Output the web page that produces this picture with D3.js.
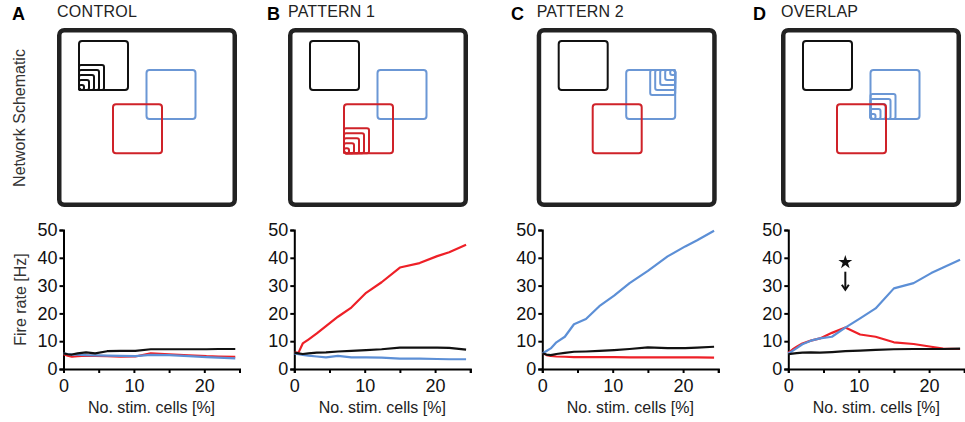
<!DOCTYPE html>
<html>
<head>
<meta charset="utf-8">
<script src="https://cdn.jsdelivr.net/npm/d3@7"></script>
<style>
  html, body { margin: 0; padding: 0; background: #fff; }
  svg { display: block; font-family: "Liberation Sans", Arial, Helvetica, sans-serif; }
</style>
</head>
<body>
<svg id="fig" width="965" height="422"></svg>
<script>
// Panels
const panelLetters = ["A", "B", "C", "D"];
const panelTitles = ["CONTROL", "PATTERN 1", "PATTERN 2", "OVERLAP"];
// Which sub-network receives the stimulation pattern, and in which corner
const stimGroup = ["black", "red", "blue", "blue"];
const stimCorner = ["bottom-left", "bottom-left", "top-right", "bottom-left"];

// Percentage of stimulated cells (x values shared by all curves)
const stimCells = [0, 0.6, 1.2, 2, 3.2, 4.5, 6.2, 8.1, 10.2, 12.4, 15, 17.8, 20.3, 22, 24.4];

// Firing rates [Hz] per panel: black, red and blue populations
const controlBlack = [5.6, 5.3, 5.2, 5.6, 6.0, 5.6, 6.4, 6.5, 6.5, 7.1, 7.1, 7.1, 7.1, 7.2, 7.2];
const controlRed   = [5.3, 4.8, 4.4, 4.6, 4.8, 4.7, 4.6, 4.4, 4.5, 5.6, 5.3, 4.9, 4.6, 4.5, 4.4];
const controlBlue  = [5.6, 5.4, 5.2, 5.2, 5.0, 4.9, 4.8, 4.7, 4.6, 5.1, 5.0, 4.6, 4.3, 4.1, 3.8];

const pattern1Black = [5.9, 5.6, 5.4, 5.6, 5.9, 6.0, 6.3, 6.5, 6.8, 7.1, 7.7, 7.7, 7.7, 7.6, 7.0];
const pattern1Red   = [5.9, 5.9, 9.2, 10.6, 12.8, 15.4, 18.8, 22.1, 27.4, 31.2, 36.5, 38.1, 40.6, 42.0, 44.7];
const pattern1Blue  = [5.6, 5.3, 5.1, 4.8, 4.5, 4.2, 4.7, 4.2, 4.2, 4.1, 3.7, 3.7, 3.6, 3.5, 3.5];

const pattern2Black = [5.6, 5.2, 5.0, 5.4, 5.8, 6.2, 6.3, 6.5, 6.8, 7.2, 7.8, 7.5, 7.5, 7.7, 8.0];
const pattern2Red   = [5.9, 5.0, 4.7, 4.5, 4.4, 4.3, 4.3, 4.3, 4.3, 4.2, 4.2, 4.2, 4.2, 4.2, 4.1];
const pattern2Blue  = [5.6, 6.5, 7.4, 9.6, 11.6, 16.1, 18.0, 22.6, 26.4, 30.9, 35.3, 40.5, 44.1, 46.3, 49.7];

const overlapBlack = [5.3, 5.5, 5.7, 5.9, 6.0, 5.9, 6.1, 6.4, 6.6, 6.9, 7.1, 7.2, 7.2, 7.2, 7.3];
const overlapRed   = [5.9, 7.0, 8.0, 9.2, 10.2, 11.0, 13.0, 14.9, 12.4, 11.6, 9.6, 9.0, 8.0, 7.3, 7.2];
const overlapBlue  = [5.6, 6.5, 7.5, 8.9, 10.2, 11.0, 11.6, 14.9, 18.2, 21.8, 29.0, 30.9, 34.5, 36.5, 39.3];

const rates = [
  { black: controlBlack,  red: controlRed,  blue: controlBlue },
  { black: pattern1Black, red: pattern1Red, blue: pattern1Blue },
  { black: pattern2Black, red: pattern2Red, blue: pattern2Blue },
  { black: overlapBlack,  red: overlapRed,  blue: overlapBlue }
];

// Axis ticks
const yTicks = [0, 10, 20, 30, 40, 50];
const xTicks = [0, 5, 10, 15, 20, 25];
const xTickLabels = [0, 10, 20];

// Annotation in the OVERLAP panel (data coordinates): star above a down arrow at the red peak
const markX = 8.1;
const starY = 38.4;
const arrowFromY = 35;
const arrowToY = 28.5;

// ---- layout & style ----
const schemLeft = [57, 288, 536.7, 781];
const titleWidth = [80, 87, 87, 77];
const axisLeft = [63.5, 294.3, 542.3, 788.3];
const letterX = [12, 267, 511, 753];
const plotW = 176, plotTop = 230, plotBottom = 369;

const lineColor = { black: "#111111", red: "#ee2027", blue: "#5c8fd6" };
const boxColor  = { black: "#111111", red: "#cf2229", blue: "#6b97d5" };
const textColor = "#222";

const svg = d3.select("#fig");

// Row labels
svg.append("text")
  .attr("transform", "translate(25,118) rotate(-90)")
  .attr("text-anchor", "middle")
  .attr("font-size", 16).attr("fill", "#333")
  .text("Network Schematic");

svg.append("text")
  .attr("transform", `translate(26,${(plotTop + plotBottom) / 2}) rotate(-90)`)
  .attr("text-anchor", "middle")
  .attr("font-size", 16).attr("fill", "#333")
  .text("Fire rate [Hz]");

// Sub-network squares inside the schematic (offsets from the outer frame)
const subBoxes = {
  black: { dx: 21, dy: 12 },
  blue:  { dx: 88.5, dy: 41 },
  red:   { dx: 55, dy: 75.3 }
};
const subSize = 51;
const nestSizes = [27, 22, 17, 12, 7];

panelLetters.forEach((letter, i) => {
  // Panel letter and title
  svg.append("text")
    .attr("x", letterX[i]).attr("y", 20)
    .attr("font-size", 18).attr("font-weight", "bold").attr("fill", "#000")
    .text(letter);
  svg.append("text")
    .attr("x", schemLeft[i]).attr("y", 17)
    .attr("font-size", 16).attr("fill", textColor)
    .attr("textLength", titleWidth[i]).attr("lengthAdjust", "spacing")
    .text(panelTitles[i]);

  // ---- schematic ----
  const g = svg.append("g").attr("transform", `translate(${schemLeft[i]},28)`);
  g.append("rect")
    .attr("x", 2.25).attr("y", 2.25).attr("width", 175.5).attr("height", 174.5)
    .attr("rx", 5).attr("fill", "none").attr("stroke", "#222").attr("stroke-width", 4.5);

  ["black", "blue", "red"].forEach(key => {
    const b = subBoxes[key];
    g.append("rect")
      .attr("x", b.dx + 1).attr("y", b.dy + 1)
      .attr("width", subSize - 2).attr("height", subSize - 2)
      .attr("rx", 3).attr("fill", "none")
      .attr("stroke", boxColor[key]).attr("stroke-width", 2);

    if (stimGroup[i] === key) {
      nestSizes.forEach(s => {
        let x0, y0;
        if (stimCorner[i] === "bottom-left") {
          x0 = b.dx; y0 = b.dy + subSize - s;
        } else {
          x0 = b.dx + subSize - s; y0 = b.dy;
        }
        g.append("rect")
          .attr("x", x0 + 1).attr("y", y0 + 1)
          .attr("width", s - 2).attr("height", s - 2)
          .attr("rx", 2).attr("fill", "none")
          .attr("stroke", boxColor[key]).attr("stroke-width", 2);
      });
    }
  });

  // ---- firing-rate plot ----
  const x = d3.scaleLinear().domain([0, 25]).range([axisLeft[i], axisLeft[i] + plotW]);
  const y = d3.scaleLinear().domain([0, 50]).range([plotBottom, plotTop]);

  const yAxis = d3.axisLeft(y).tickValues(yTicks).tickSize(4).tickPadding(2);
  const xAxis = d3.axisBottom(x).tickValues(xTicks).tickSize(4).tickPadding(6)
    .tickFormat(d => xTickLabels.includes(d) ? d : "");

  const gy = svg.append("g").attr("transform", `translate(${axisLeft[i]},0)`).call(yAxis);
  const gx = svg.append("g").attr("transform", `translate(0,${plotBottom})`).call(xAxis);
  [gx, gy].forEach(ax => {
    ax.select(".domain").attr("stroke", "#000").attr("stroke-width", 2);
    ax.selectAll(".tick line").attr("stroke", "#000").attr("stroke-width", 2);
    ax.selectAll(".tick text").attr("font-size", 18).attr("fill", "#111")
      .attr("font-family", '"Liberation Sans", Arial, sans-serif');
  });

  svg.append("text")
    .attr("x", axisLeft[i] + plotW / 2).attr("y", 413)
    .attr("text-anchor", "middle").attr("font-size", 16).attr("fill", textColor)
    .text("No. stim. cells [%]");

  const line = d3.line().x((d, k) => x(stimCells[k])).y(d => y(d));
  ["red", "blue", "black"].forEach(key => {
    svg.append("path")
      .datum(rates[i][key])
      .attr("d", line)
      .attr("fill", "none")
      .attr("stroke", lineColor[key])
      .attr("stroke-width", 2.2)
      .attr("stroke-linejoin", "round");
  });

  if (letter === "D") {
    svg.append("path")
      .attr("transform", `translate(${x(markX)},${y(starY)})`)
      .attr("d", d3.symbol(d3.symbolStar, 60)())
      .attr("fill", "#111");
    const ax = x(markX), ay0 = y(arrowFromY), ay1 = y(arrowToY);
    svg.append("line")
      .attr("x1", ax).attr("x2", ax).attr("y1", ay0).attr("y2", ay1 - 1)
      .attr("stroke", "#111").attr("stroke-width", 2);
    svg.append("path")
      .attr("d", `M${ax - 3.5},${ay1 - 5} L${ax},${ay1} L${ax + 3.5},${ay1 - 5}`)
      .attr("fill", "none").attr("stroke", "#111").attr("stroke-width", 2);
  }
});
</script>
</body>
</html>
